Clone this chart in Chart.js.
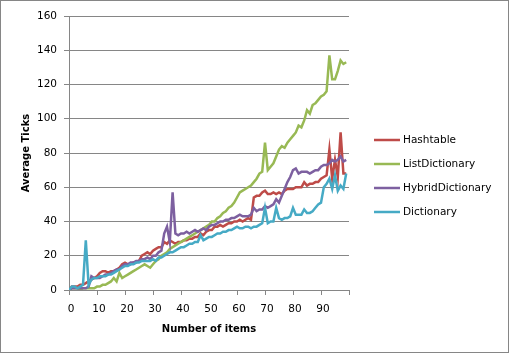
<!DOCTYPE html>
<html><head><meta charset="utf-8">
<script src="https://cdn.jsdelivr.net/npm/chart.js@4"></script>
<style>html,body{margin:0;padding:0;background:#fff}#wrap{width:509px;height:353px;position:relative}</style>
</head><body><div id="wrap"><canvas id="c" width="509" height="353"></canvas></div>
<script>
const items = Array.from({length:100},(_,i)=>i);
const xTicks = [0,10,20,30,40,50,60,70,80,90];
const yTicks = [0,20,40,60,80,100,120,140,160];
const seriesNames = ['Hashtable','ListDictionary','HybridDictionary','Dictionary'];

const hashtable = [0,2,2,2,3,3,4,5,6,7, 8,10,11,11,10,11,11,12,13,15, 16,15,15,16,16,17,20,21,22,21,
 23,24,25,25,28,27,29,28,27,28, 28,29,29,30,30,31,31,33,32,34, 35,35,37,37,38,37,38,39,39,40,
 40,41,40,41,42,41,54,55,55,57, 58,56,56,57,56,57,56,58,59,59, 59,60,60,60,63,61,62,62,63,63,
 65,66,67,82,65,76,66,92,68,68];
const listDictionary = [0,1,1,1,0,1,1,1,1,1, 2,2,3,3,4,5,7,5,10,7, 8,9,10,11,12,13,14,15,14,13,
 15,17,18,20,21,22,24,25,26,27, 28,29,30,31,32,33,34,35,36,37, 38,40,40,42,43,45,46,48,49,51,
 54,57,58,59,60,61,63,65,68,69, 86,70,72,74,78,82,84,83,86,88, 90,92,96,95,99,105,103,108,109,111,
 113,114,116,137,123,123,128,134,132,133];
const hybridDictionary = [0,1,1,1,1,1,1,2,8,7, 7,7,8,9,9,10,11,12,12,14, 15,15,16,16,17,17,18,18,19,18,
 20,20,22,23,33,37,28,57,33,32, 33,33,34,33,34,35,34,35,36,35, 37,38,38,39,40,40,41,41,42,42,
 43,44,43,43,43,44,48,46,47,47, 49,48,49,50,53,51,55,59,63,66, 70,71,68,69,69,69,68,69,70,70,
 72,73,73,74,76,75,76,78,75,76];
const dictionary = [0,2,2,1,2,3,29,3,6,7, 7,8,8,8,9,9,10,11,12,13, 14,14,15,15,16,16,17,17,17,17,
 18,17,19,19,20,21,22,22,23,24, 25,25,26,27,27,28,28,32,29,30, 31,31,32,33,33,34,34,35,35,36,
 37,36,36,37,37,36,37,37,38,39, 48,39,40,40,48,42,41,42,42,43, 48,44,44,44,47,45,45,46,48,50,
 51,60,62,65,59,67,58,61,59,68];

const colors = ['#BE4B48','#98B954','#7D60A0','#46AAC5'];
const values = [hashtable, listDictionary, hybridDictionary, dictionary];

const FONT = 'DejaVu Sans';
const GRID = '#868686';

const extras = {
  id:'extras',
  beforeDraw(chart){
    const ctx = chart.ctx;
    ctx.save(); ctx.fillStyle='#fff'; ctx.fillRect(0,0,chart.width,chart.height); ctx.restore();
  },
  afterDraw(chart){
    const ctx = chart.ctx;
    ctx.save();
    ctx.strokeStyle = GRID; ctx.lineWidth = 1;
    ctx.strokeRect(0.5,0.5,chart.width-1,chart.height-1);
    const ys = [140,164,188,212];
    ctx.font = '10.5px "' + FONT + '"';
    ctx.textBaseline = 'middle';
    ctx.fillStyle = '#000';
    seriesNames.forEach((n,i)=>{
      ctx.strokeStyle = colors[i]; ctx.lineWidth = 2.5;
      ctx.beginPath(); ctx.moveTo(374, ys[i]); ctx.lineTo(400, ys[i]); ctx.stroke();
      ctx.fillText(n, 403, ys[i]);
    });
    ctx.restore();
  }
};

new Chart(document.getElementById('c'), {
  type:'line',
  data:{
    datasets: seriesNames.map((n,k)=>({
      label:n,
      data: values[k].map((v,i)=>({x:items[i], y:v})),
      borderColor: colors[k],
      backgroundColor: colors[k],
      borderWidth: 2.5,
      pointRadius: 0,
      tension: 0,
      fill:false,
      order: 4-k
    }))
  },
  options:{
    responsive:false, animation:false, devicePixelRatio:1,
    layout:{padding:{top:16,right:160,bottom:0,left:0}},
    plugins:{legend:{display:false}, tooltip:{enabled:false}},
    scales:{
      x:{type:'linear', min:0, max:100,
        afterBuildTicks: s => { s.ticks = xTicks.concat([100]).map(v=>({value:v})); },
        ticks:{font:{family:FONT,size:10.5}, color:'#000', padding:8, labelOffset:2, maxRotation:0, autoSkip:false,
          callback: v => xTicks.includes(v) ? String(v) : ''},
        grid:{drawOnChartArea:false, drawTicks:true, tickLength:5, color:GRID},
        border:{color:GRID},
        title:{display:true, text:'Number of items', color:'#000', font:{family:FONT,size:10,weight:'bold'}, padding:{top:0,bottom:18}},
        afterFit: s => { s.height = 63; }
      },
      y:{min:0, max:160,
        afterBuildTicks: s => { s.ticks = yTicks.map(v=>({value:v})); },
        ticks:{font:{family:FONT,size:10.5}, color:'#000', padding:7},
        grid:{color:GRID, tickLength:5},
        border:{color:GRID},
        title:{display:true, text:'Average Ticks', color:'#000', font:{family:FONT,size:10,weight:'bold'}, padding:{top:20,bottom:0}},
        afterFit: s => { s.width = 69; }
      }
    }
  },
  plugins:[extras]
});
</script></body></html>
